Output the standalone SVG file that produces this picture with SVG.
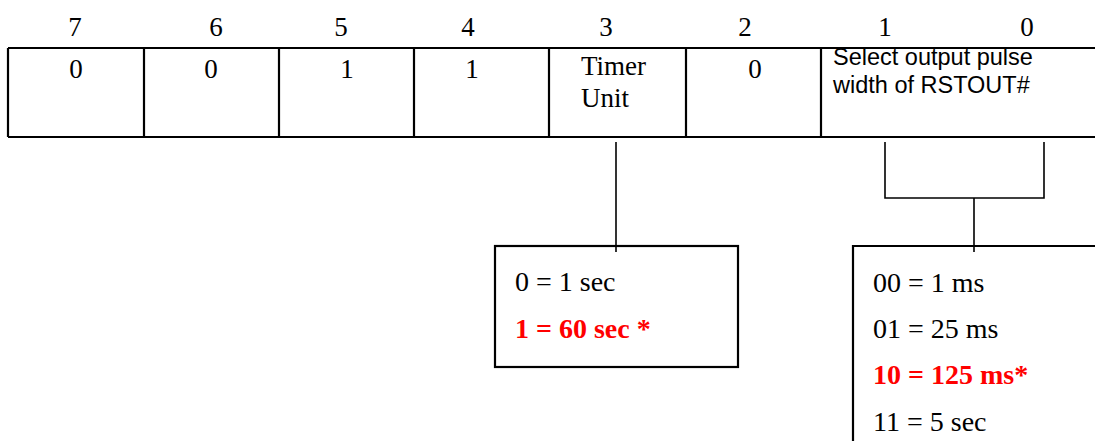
<svg xmlns="http://www.w3.org/2000/svg" width="1095" height="441" viewBox="0 0 1095 441">
<style>
.t{font-family:"Liberation Serif","Times New Roman",serif;font-size:27px;fill:#000}
.u{font-size:28px}
.c{text-anchor:middle}
.s{font-family:"Liberation Sans",Arial,sans-serif;font-size:23.5px;fill:#000}
.r{fill:#ff0000;font-weight:bold}
.b{fill:none;stroke:#000;stroke-width:2.2}
.w{fill:none;stroke:#000;stroke-width:1.6}
</style>
<rect width="1095" height="441" fill="#fff"/>
<g id="bit-numbers">
<text class="t c" x="75" y="36">7</text>
<text class="t c" x="216" y="36">6</text>
<text class="t c" x="341" y="36">5</text>
<text class="t c" x="468" y="36">4</text>
<text class="t c" x="606" y="36">3</text>
<text class="t c" x="745" y="36">2</text>
<text class="t c" x="885" y="36">1</text>
<text class="t c" x="1027" y="36">0</text>
</g>
<g id="register">
<path class="b" d="M8,48 H1095 M8,137 H1095 M8,48 V137 M144,48 V137 M279,48 V137 M414,48 V137 M549,48 V137 M686,48 V137 M821,48 V137"/>
<text class="t c" x="76" y="78">0</text>
<text class="t c" x="211" y="78">0</text>
<text class="t c" x="347" y="78">1</text>
<text class="t c" x="472" y="78">1</text>
<text class="t" x="581" y="75">Timer</text>
<text class="t" x="581" y="107">Unit</text>
<text class="t c" x="755" y="78">0</text>
<text class="s" x="833" y="65">Select output pulse</text>
<text class="s" x="833" y="93">width of RSTOUT#</text>
</g>
<g id="connectors">
<path class="w" d="M616,142 V252"/>
<path class="w" d="M885,142 V198 H1044 V142 M974,198 V252"/>
</g>
<g id="timer-box">
<rect class="b" x="495" y="246" width="243" height="121"/>
<text class="t u" x="515" y="291">0 = 1 sec</text>
<text class="t u r" x="515" y="338">1 = 60 sec *</text>
</g>
<g id="pulse-box">
<path class="b" d="M853,441 V246 H1095"/>
<text class="t u" x="873" y="292">00 = 1 ms</text>
<text class="t u" x="873" y="338">01 = 25 ms</text>
<text class="t u r" x="873" y="384">10 = 125 ms*</text>
<text class="t u" x="873" y="431">11 = 5 sec</text>
</g>
</svg>
